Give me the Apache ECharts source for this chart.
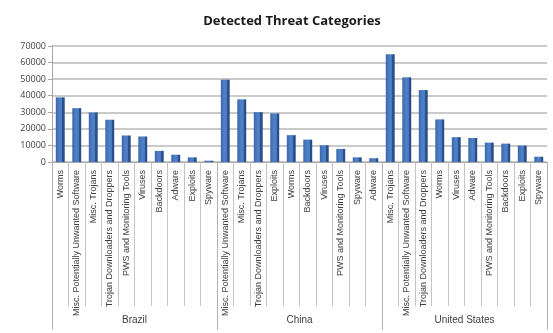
<!DOCTYPE html>
<html>
<head>
<meta charset="utf-8">
<script src="https://cdn.jsdelivr.net/npm/echarts@6/dist/echarts.min.js"></script>
<style>
	html, body { margin: 0; padding: 0; background: #fff; }
	#chart { width: 553px; height: 333px; }
</style>
</head>
<body>
<div id="chart"></div>
<script>
const countries = ['Brazil', 'China', 'United States'];

const brazilCats = ['Worms', 'Misc. Potentially Unwanted Software', 'Misc. Trojans', 'Trojan Downloaders and Droppers',
	'PWS and Monitoring Tools', 'Viruses', 'Backdoors', 'Adware', 'Exploits', 'Spyware'];
const brazilValues = [39000, 32500, 29900, 25500, 16000, 15400, 6700, 4400, 2800, 800];

const chinaCats = ['Misc. Potentially Unwanted Software', 'Misc. Trojans', 'Trojan Downloaders and Droppers', 'Exploits',
	'Worms', 'Backdoors', 'Viruses', 'PWS and Monitoring Tools', 'Spyware', 'Adware'];
const chinaValues = [49700, 37800, 30100, 29300, 16200, 13500, 10100, 7900, 2800, 2300];

const usCats = ['Misc. Trojans', 'Misc. Potentially Unwanted Software', 'Trojan Downloaders and Droppers', 'Worms',
	'Viruses', 'Adware', 'PWS and Monitoring Tools', 'Backdoors', 'Exploits', 'Spyware'];
const usValues = [65000, 51100, 43400, 25700, 15000, 14500, 11700, 11100, 9900, 3200];

const categories = brazilCats.concat(chinaCats, usCats);
const values = brazilValues.concat(chinaValues, usValues);

const labelFont = "'Liberation Sans Narrow', 'Arial Narrow', sans-serif";
var myChart = echarts.init(document.getElementById('chart'));

var option = {
	animation: false,
	title: {
		text: 'Detected Threat Categories',
		left: 287,
		textAlign: 'center',
		top: 10,
		textStyle: { fontSize: 13, fontWeight: 'bold', color: '#1a1a1a', fontFamily: "'Open Sans', sans-serif" }
	},
	grid: { left: 52, right: 6, top: 46, bottom: 171 },
	xAxis: [
		{
			type: 'category',
			data: categories,
			axisLine: { show: true, lineStyle: { color: '#a6a6a6' } },
			axisTick: { show: true, interval: 0, length: 144, lineStyle: { color: '#c4c4c4' } },
			axisLabel: {
				interval: 0,
				rotate: 90,
				margin: 8,
				fontSize: 9,
				color: '#404040',
				fontFamily: labelFont
			}
		},
		{
			type: 'category',
			data: countries,
			position: 'bottom',
			axisLine: { show: false },
			axisTick: { show: true, interval: 0, length: 168, lineStyle: { color: '#b4b4b4' } },
			axisLabel: {
				interval: 0,
				margin: 153,
				fontSize: 10,
				color: '#404040',
				fontFamily: labelFont
			}
		}
	],
	yAxis: {
		type: 'value',
		min: 0,
		max: 70000,
		interval: 10000,
		axisLine: { show: true, lineStyle: { color: '#a6a6a6' } },
		axisTick: { show: true, length: 4, lineStyle: { color: '#a6a6a6' } },
		axisLabel: {
			fontSize: 9, color: '#404040', margin: 6, fontFamily: "'Open Sans', sans-serif",
			formatter: v => String(v)
		},
		splitLine: { lineStyle: { color: '#b8b8b8', width: 1.5 } }
	},
	series: [
		{
			type: 'bar',
			xAxisIndex: 0,
			data: values,
			barWidth: '54%',
			itemStyle: {
				color: new echarts.graphic.LinearGradient(0, 0, 1, 0, [
					{ offset: 0, color: '#3a66ad' },
					{ offset: 0.45, color: '#4f82c8' },
					{ offset: 0.72, color: '#4677bf' },
					{ offset: 0.74, color: '#2c5290' },
					{ offset: 1, color: '#264a85' }
				])
			}
		}
	]
};

option && myChart.setOption(option);
</script>
</body>
</html>
